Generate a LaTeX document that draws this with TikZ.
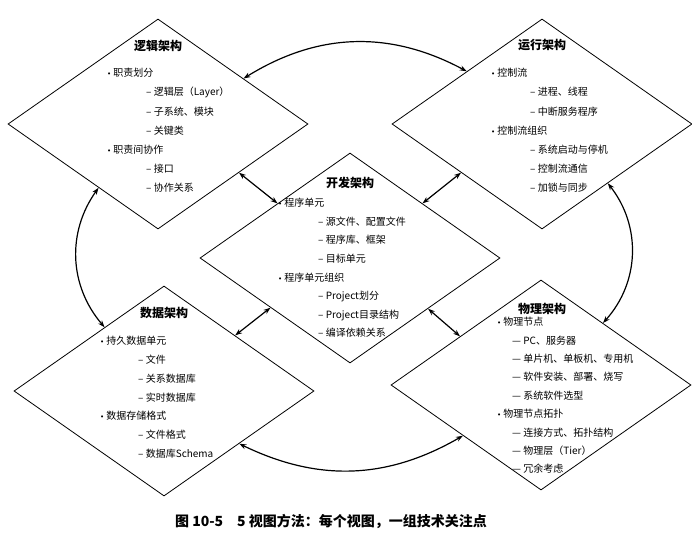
\documentclass[tikz,border=0pt]{standalone}
\usepackage{fontspec}
\setmainfont{Noto Sans CJK SC}
\newfontfamily\symfont{DejaVu Sans}
\newcommand{\viewbullet}{{\symfont\fontsize{7}{7}\selectfont •}\hspace{2pt}}
\usetikzlibrary{shapes.geometric,arrows.meta}

\begin{document}
\begin{tikzpicture}[x=1pt,y=-1pt,
    view/.style={diamond, draw, line width=0.8pt, minimum width=300pt, minimum height=210pt, inner sep=0pt},
    title/.style={font=\fontsize{12}{14}\selectfont\bfseries},
    items/.style={font=\fontsize{10}{19.2}\selectfont, align=left, inner sep=0pt, anchor=north west},
    link/.style={<->, >={Stealth[length=7pt,width=5pt]}, line width=1.2pt}]
  \useasboundingbox (0,0) rectangle (692,533);
  % Define views
  \node[view] (logic) at (158,124) {};
  \node[view] (run) at (542,124) {};
  \node[view] (dev) at (350,258) {};
  \node[view] (data) at (164,391) {};
  \node[view] (phys) at (541,385) {};
  % Titles
  \node[title] (logict) at (158,46) {逻辑架构};
  \node[title] (runt) at (542,45) {运行架构};
  \node[title] (devt) at (350,183) {开发架构};
  \node[title] (datat) at (164,313) {数据架构};
  \node[title] (physt) at (542,309) {物理架构};
  % Items
  \node[items] (logici) at (107,68) {\viewbullet 职责划分\\
    \hspace*{39pt}– 逻辑层（Layer）\\
    \hspace*{39pt}– 子系统、模块\\
    \hspace*{39pt}– 关键类\\
    \viewbullet 职责间协作\\
    \hspace*{39pt}– 接口\\
    \hspace*{39pt}– 协作关系};
  \node[items] (runi) at (491,68) {\viewbullet 控制流\\
    \hspace*{39pt}– 进程、线程\\
    \hspace*{39pt}– 中断服务程序\\
    \viewbullet 控制流组织\\
    \hspace*{39pt}– 系统启动与停机\\
    \hspace*{39pt}– 控制流通信\\
    \hspace*{39pt}– 加锁与同步};
  \node[items, font=\fontsize{10}{18.6}\selectfont] (devi) at (278,198) {\viewbullet 程序单元\\
    \hspace*{40pt}– 源文件、配置文件\\
    \hspace*{40pt}– 程序库、框架\\
    \hspace*{40pt}– 目标单元\\
    \viewbullet 程序单元组织\\
    \hspace*{40pt}– Project划分\\
    \hspace*{40pt}– Project目录结构\\
    \hspace*{40pt}– 编译依赖关系};
  \node[items, font=\fontsize{10}{18.8}\selectfont] (datai) at (100,336) {\viewbullet 持久数据单元\\
    \hspace*{38pt}– 文件\\
    \hspace*{38pt}– 关系数据库\\
    \hspace*{38pt}– 实时数据库\\
    \viewbullet 数据存储格式\\
    \hspace*{38pt}– 文件格式\\
    \hspace*{38pt}– 数据库Schema};
  \node[items, font=\fontsize{10}{18.4}\selectfont] (physi) at (497,317) {\viewbullet 物理节点\\
    \hspace*{15pt}— PC、服务器\\
    \hspace*{15pt}— 单片机、单板机、专用机\\
    \hspace*{15pt}— 软件安装、部署、烧写\\
    \hspace*{15pt}— 系统软件选型\\
    \viewbullet 物理节点拓扑\\
    \hspace*{15pt}— 连接方式、拓扑结构\\
    \hspace*{15pt}— 物理层（Tier）\\
    \hspace*{15pt}— 冗余考虑};
  % Caption
  \node[font=\fontsize{14}{16}\selectfont\bfseries] (caption) at (331,521) {图 10-5\quad 5 视图方法：每个视图，一组技术关注点};
  % Outer ring
  \draw[link] (logic.28) to[bend left=30] (run.145);
  \draw[link] (run.-42) to[bend left=40] (phys.45);
  \draw[link] (phys.-147) to[bend left=28] (data.-35);
  \draw[link] (data.133) to[bend left=38] (logic.-133);
  % Links to the development view
  \draw[link] (logic.-31) -- (dev.143);
  \draw[link] (run.-149) -- (dev.37);
  \draw[link] (data.38) -- (dev.-148);
  \draw[link] (phys.149) -- (dev.-33);
\end{tikzpicture}
\end{document}
